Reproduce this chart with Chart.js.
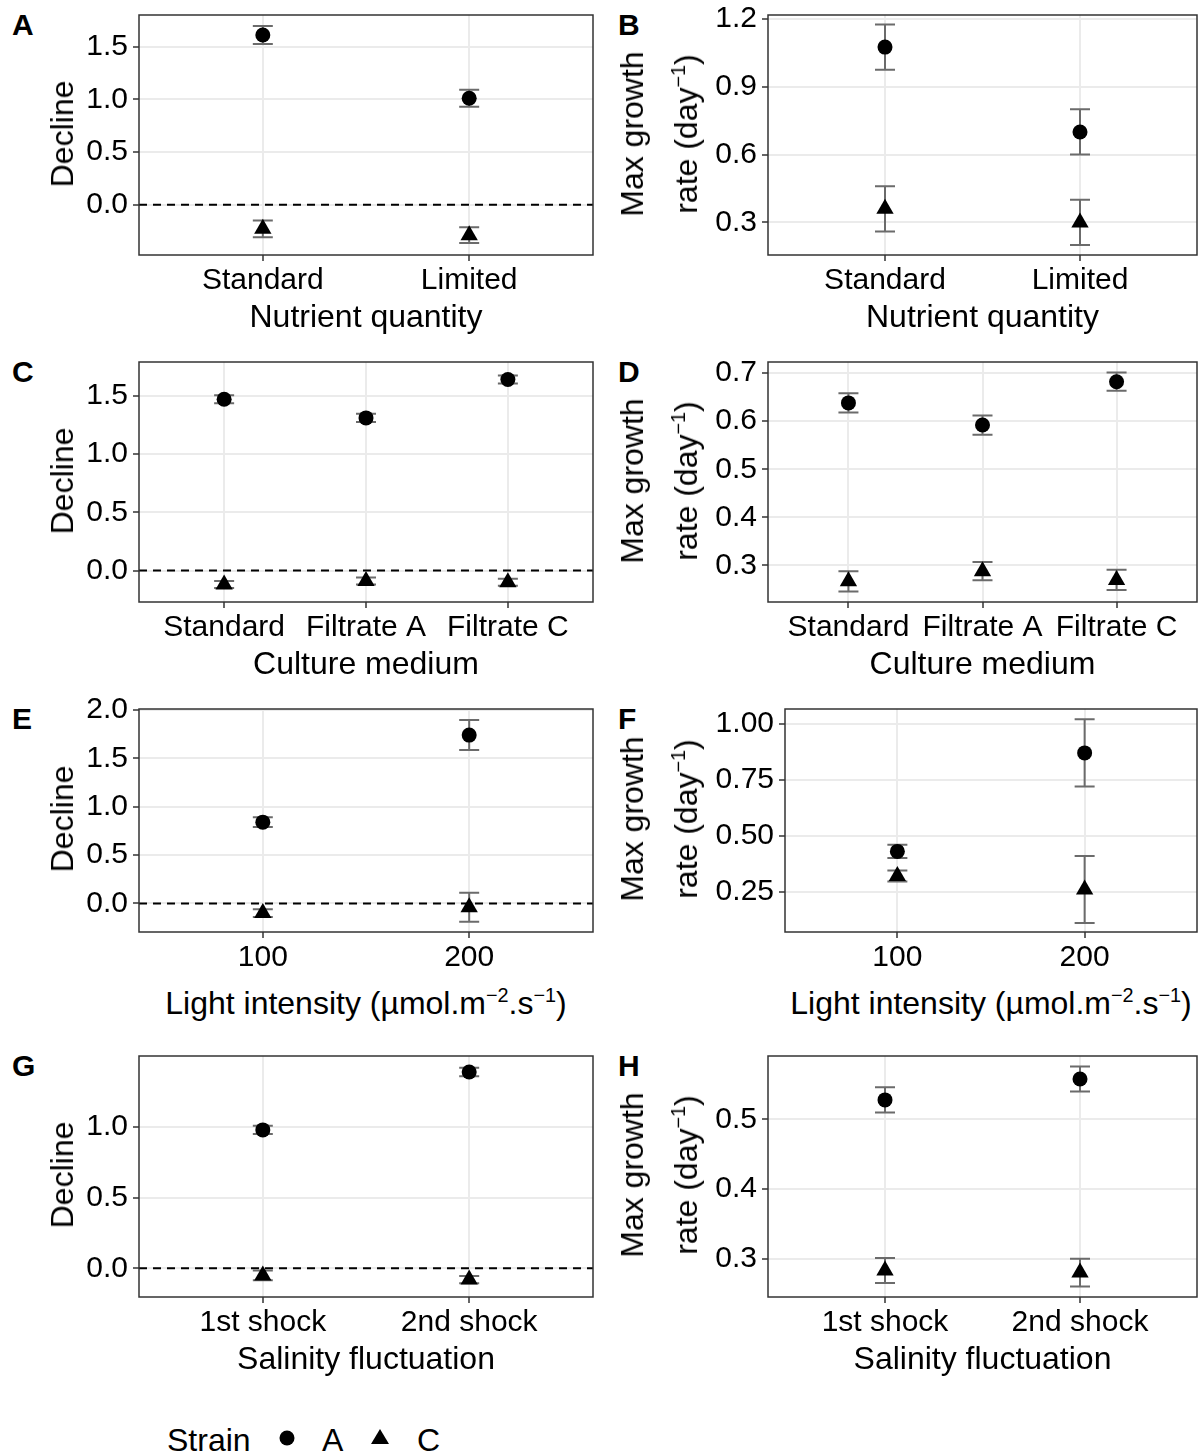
<!DOCTYPE html>
<html>
<head>
<meta charset="utf-8">
<script src="https://cdn.jsdelivr.net/npm/chart.js@4.4.0/dist/chart.umd.min.js"></script>
<style>
  body { margin: 0; background: #fff; font-family: 'Liberation Sans', Arial, sans-serif; }
  #fig { position: relative; width: 1200px; height: 1454px; overflow: hidden; background: #fff; }
  canvas { position: absolute; }
  .txt { position: absolute; color: #000; white-space: nowrap; line-height: 1; }
  .letter { font-weight: bold; font-size: 30px; }
  .xt { font-size: 32px; transform: translate(-50%, -50%); }
  .yt { font-size: 32px; transform: translate(-50%, -50%) rotate(-90deg); text-align: center; }
  .yt2 { line-height: 54px; }
  sup { font-size: 62%; vertical-align: 0.62em; line-height: 0; }
  .leg { font-size: 32px; transform: translateY(-50%); }
  .dot { position: absolute; width: 15px; height: 15px; border-radius: 50%; background: #000; transform: translate(-50%, -50%); }
  .tri { position: absolute; width: 0; height: 0; border-left: 9px solid transparent; border-right: 9px solid transparent; border-bottom: 15px solid #000; transform: translate(-50%, -60%); }
</style>
</head>
<body>
<div id="fig"></div>
<script>
// categories
const nutrientLabels = ['Standard', 'Limited'];
const mediumLabels = ['Standard', 'Filtrate A', 'Filtrate C'];
const lightLabels = ['100', '200'];
const salinityLabels = ['1st shock', '2nd shock'];

// A: decline vs nutrient quantity
const declineNutrientA = [1.61, 1.01];
const declineNutrientAErr = [0.085, 0.08];
const declineNutrientC = [-0.23, -0.29];
const declineNutrientCErr = [0.08, 0.075];
// B: max growth vs nutrient quantity
const growthNutrientA = [1.075, 0.70];
const growthNutrientAErr = [0.10, 0.10];
const growthNutrientC = [0.36, 0.30];
const growthNutrientCErr = [0.10, 0.10];
// C: decline vs culture medium
const declineMediumA = [1.47, 1.31, 1.64];
const declineMediumAErr = [0.035, 0.035, 0.035];
const declineMediumC = [-0.12, -0.09, -0.10];
const declineMediumCErr = [0.03, 0.03, 0.03];
// D: max growth vs culture medium
const growthMediumA = [0.638, 0.592, 0.682];
const growthMediumAErr = [0.02, 0.02, 0.019];
const growthMediumC = [0.267, 0.288, 0.270];
const growthMediumCErr = [0.021, 0.019, 0.021];
// E: decline vs light
const declineLightA = [0.84, 1.74];
const declineLightAErr = [0.05, 0.155];
const declineLightC = [-0.10, -0.04];
const declineLightCErr = [0.04, 0.15];
// F: max growth vs light
const growthLightA = [0.43, 0.87];
const growthLightAErr = [0.03, 0.15];
const growthLightC = [0.32, 0.26];
const growthLightCErr = [0.025, 0.15];
// G: decline vs salinity
const declineSalinityA = [0.98, 1.39];
const declineSalinityAErr = [0.03, 0.03];
const declineSalinityC = [-0.05, -0.08];
const declineSalinityCErr = [0.035, 0.025];
// H: max growth vs salinity
const growthSalinityA = [0.528, 0.558];
const growthSalinityAErr = [0.018, 0.018];
const growthSalinityC = [0.283, 0.28];
const growthSalinityCErr = [0.018, 0.02];

// tick labels
const declineTicks15 = [0, 0.5, 1.0, 1.5];
const declineTicks20 = [0, 0.5, 1.0, 1.5, 2.0];
const declineTicks10 = [0, 0.5, 1.0];
const growthTicksB = [0.3, 0.6, 0.9, 1.2];
const growthTicksD = [0.3, 0.4, 0.5, 0.6, 0.7];
const growthTicksF = [0.25, 0.5, 0.75, 1.0];
const growthTicksH = [0.3, 0.4, 0.5];

const growthTitle = 'Max growth<br>rate (day<sup>\u22121</sup>)';
const lightTitle = 'Light intensity (\u00b5mol.m<sup>\u22122</sup>.s<sup>\u22121</sup>)';

// panel boxes in page pixels
const panels = [
  { id: 'A', box: [139, 12, 593, 255], cats: nutrientLabels, a: declineNutrientA, aErr: declineNutrientAErr, c: declineNutrientC, cErr: declineNutrientCErr, y: [-0.478, 1.80], ticks: declineTicks15, dec: 1, zero: true, xTitle: 'Nutrient quantity' },
  { id: 'B', box: [768, 12, 1197, 255], cats: nutrientLabels, a: growthNutrientA, aErr: growthNutrientAErr, c: growthNutrientC, cErr: growthNutrientCErr, y: [0.156, 1.217], ticks: growthTicksB, dec: 1, zero: false, xTitle: 'Nutrient quantity' },
  { id: 'C', box: [139, 359, 593, 602], cats: mediumLabels, a: declineMediumA, aErr: declineMediumAErr, c: declineMediumC, cErr: declineMediumCErr, y: [-0.27, 1.79], ticks: declineTicks15, dec: 1, zero: true, xTitle: 'Culture medium' },
  { id: 'D', box: [768, 359, 1197, 602], cats: mediumLabels, a: growthMediumA, aErr: growthMediumAErr, c: growthMediumC, cErr: growthMediumCErr, y: [0.224, 0.723], ticks: growthTicksD, dec: 1, zero: false, xTitle: 'Culture medium' },
  { id: 'E', box: [139, 706, 593, 932], cats: lightLabels, a: declineLightA, aErr: declineLightAErr, c: declineLightC, cErr: declineLightCErr, y: [-0.296, 2.01], ticks: declineTicks20, dec: 1, zero: true, xTitle: lightTitle, titleGap: 71 },
  { id: 'F', box: [785, 706, 1197, 932], cats: lightLabels, a: growthLightA, aErr: growthLightAErr, c: growthLightC, cErr: growthLightCErr, y: [0.07, 1.066], ticks: growthTicksF, dec: 2, zero: false, xTitle: lightTitle, titleGap: 71 },
  { id: 'G', box: [139, 1053, 593, 1297], cats: salinityLabels, a: declineSalinityA, aErr: declineSalinityAErr, c: declineSalinityC, cErr: declineSalinityCErr, y: [-0.203, 1.503], ticks: declineTicks10, dec: 1, zero: true, xTitle: 'Salinity fluctuation' },
  { id: 'H', box: [768, 1053, 1197, 1297], cats: salinityLabels, a: growthSalinityA, aErr: growthSalinityAErr, c: growthSalinityC, cErr: growthSalinityCErr, y: [0.245, 0.591], ticks: growthTicksH, dec: 1, zero: false, xTitle: 'Salinity fluctuation' }
];

const fig = document.getElementById('fig');

function addText(cls, html, x, y) {
  const d = document.createElement('div');
  d.className = 'txt ' + cls;
  d.innerHTML = html;
  d.style.left = x + 'px';
  d.style.top = y + 'px';
  fig.appendChild(d);
  return d;
}

// error bars, zero line and panel border
const panelDecor = {
  id: 'panelDecor',
  beforeDatasetsDraw(chart, args, opts) {
    const { ctx, chartArea: ca, scales: { x, y } } = chart;
    ctx.save();
    if (opts.zero) {
      const py = y.getPixelForValue(0);
      ctx.strokeStyle = '#000';
      ctx.lineWidth = 2;
      ctx.setLineDash([8, 6]);
      ctx.beginPath();
      ctx.moveTo(ca.left, py);
      ctx.lineTo(ca.right, py);
      ctx.stroke();
      ctx.setLineDash([]);
    }
    ctx.strokeStyle = '#6b6b6b';
    ctx.lineWidth = 2;
    chart.data.datasets.forEach(ds => {
      ds.data.forEach(p => {
        const px = x.getPixelForValue(p.x);
        const top = y.getPixelForValue(p.y + p.err);
        const bot = y.getPixelForValue(p.y - p.err);
        ctx.beginPath();
        ctx.moveTo(px, top); ctx.lineTo(px, bot);
        ctx.moveTo(px - 10, top); ctx.lineTo(px + 10, top);
        ctx.moveTo(px - 10, bot); ctx.lineTo(px + 10, bot);
        ctx.stroke();
      });
    });
    ctx.restore();
  },
  afterDraw(chart) {
    const { ctx, chartArea: ca } = chart;
    ctx.save();
    ctx.strokeStyle = '#333';
    ctx.lineWidth = 1.5;
    ctx.strokeRect(ca.left, ca.top, ca.right - ca.left, ca.bottom - ca.top);
    ctx.restore();
  }
};

panels.forEach((p, idx) => {
  const [pl, pt, pr, pb] = p.box;
  const cx = pl - 100, cy = pt - 20;
  const cw = pr - cx + 12, ch = pb - cy + 50;
  const cv = document.createElement('canvas');
  cv.width = cw; cv.height = ch;
  cv.style.left = cx + 'px'; cv.style.top = cy + 'px';
  fig.appendChild(cv);

  const toPts = (vals, errs) => vals.map((v, i) => ({ x: i + 1, y: v, err: errs[i] }));
  const n = p.cats.length;

  new Chart(cv, {
    type: 'scatter',
    data: {
      datasets: [
        { label: 'A', data: toPts(p.a, p.aErr), pointStyle: 'circle', pointRadius: 7.5, backgroundColor: '#000', borderWidth: 0 },
        { label: 'C', data: toPts(p.c, p.cErr), pointStyle: 'triangle', pointRadius: 10, backgroundColor: '#000', borderWidth: 0 }
      ]
    },
    options: {
      responsive: false,
      animation: false,
      events: [],
      layout: { padding: { left: 0, top: pt - cy, right: cx + cw - pr, bottom: 0 } },
      plugins: { legend: { display: false }, tooltip: { enabled: false }, panelDecor: { zero: p.zero } },
      scales: {
        x: {
          type: 'linear',
          min: 0.4, max: n + 0.6,
          afterBuildTicks: s => { s.ticks = p.cats.map((c, i) => ({ value: i + 1 })); },
          afterFit: s => { s.height = cy + ch - pb; },
          grid: { color: '#ebebeb', lineWidth: 2, drawTicks: true, tickLength: 6, tickColor: '#333', tickWidth: 1.5 },
          border: { display: false },
          ticks: {
            autoSkip: false, maxRotation: 0, padding: 2, color: '#000',
            font: { family: 'Liberation Sans', size: 30 },
            callback: v => p.cats[Math.round(v) - 1]
          }
        },
        y: {
          min: p.y[0], max: p.y[1],
          afterBuildTicks: s => { s.ticks = p.ticks.map(v => ({ value: v })); },
          afterFit: s => { s.width = pl - cx; },
          grid: { color: '#ebebeb', lineWidth: 2, drawTicks: true, tickLength: 6, tickColor: '#333', tickWidth: 1.5 },
          border: { display: false },
          ticks: {
            padding: 5, color: '#000',
            font: { family: 'Liberation Sans', size: 30 },
            callback: v => Number(v).toFixed(p.dec)
          }
        }
      }
    },
    plugins: [panelDecor]
  });

  // panel letter
  const left = idx % 2 === 0;
  addText('letter', p.id, left ? 12 : 618, pt - 2);
  // axis titles
  addText('xt', p.xTitle, (pl + pr) / 2, pb + (p.titleGap || 61));
  if (left) {
    addText('yt', 'Decline', 62, (pt + pb) / 2);
  } else {
    addText('yt yt2', growthTitle, 659, (pt + pb) / 2);
  }
});

// legend
addText('leg', 'Strain', 167, 1440);
const dot = document.createElement('div');
dot.className = 'dot'; dot.style.left = '287px'; dot.style.top = '1438px';
fig.appendChild(dot);
addText('leg', 'A', 322, 1440);
const tri = document.createElement('div');
tri.className = 'tri'; tri.style.left = '380px'; tri.style.top = '1438px';
fig.appendChild(tri);
addText('leg', 'C', 417, 1440);
</script>
</body>
</html>
